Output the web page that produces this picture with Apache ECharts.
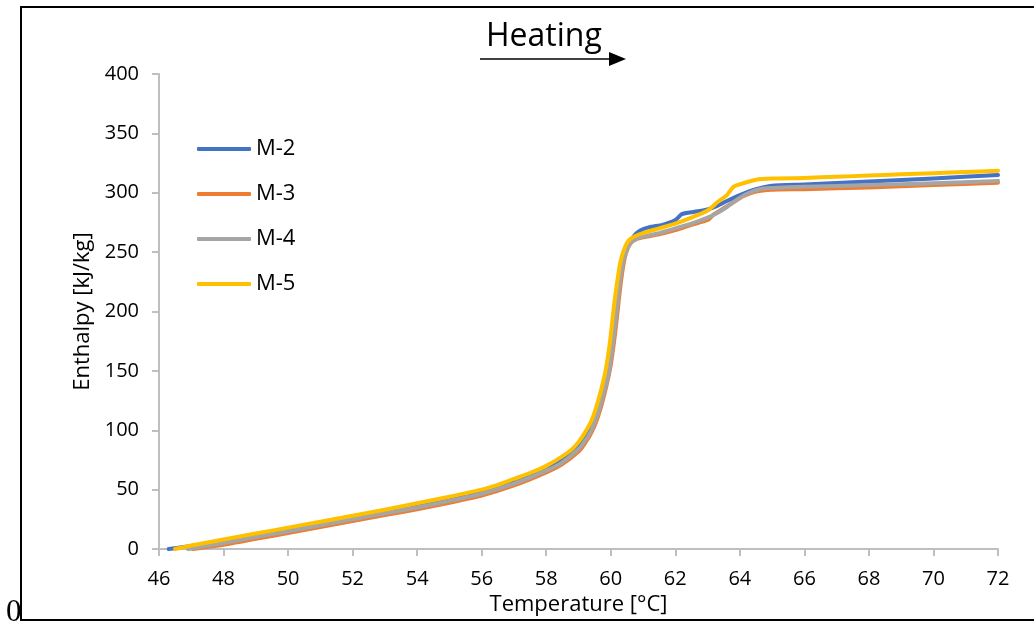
<!DOCTYPE html>
<html>
<head>
<meta charset="utf-8">
<script src="https://cdn.jsdelivr.net/npm/echarts@6/dist/echarts.min.js"></script>
<style>html,body{margin:0;padding:0;background:#fff}#c{width:1034px;height:622px}</style>
</head>
<body>
<div id="c"></div>
<script>
var seriesNames = ['M-2', 'M-3', 'M-4', 'M-5'];
var xTicks = {min: 46, max: 72, interval: 2};
var yTicks = {min: 0, max: 400, interval: 50};

var m2 = [[46.3,0],[47,2.5],[48,7],[49,12],[50,17],[51,22],[52,27],[53,32],[54,37.5],[55,43],[56,49],[57,57.5],[58,68.5],[58.5,76],[59,87],[59.2,94],[59.4,103],[59.6,118],[59.8,138],[60,165],[60.15,195],[60.25,220],[60.35,240],[60.5,254],[60.7,263],[60.9,268],[61.2,271],[61.6,273],[62,277],[62.2,282],[62.6,284],[63,286],[63.3,289],[63.6,293],[64,298],[64.5,303],[65,306],[66,307],[68,309.5],[70,312],[72,315]];
var m3 = [[47.05,0],[48,3.5],[49,8.5],[50,13.5],[51,18.5],[52,23.5],[53,28.5],[54,33.5],[55,39],[56,45],[57,53.5],[58,64.5],[58.5,71.5],[59,82],[59.2,89],[59.4,98],[59.6,111],[59.8,130],[60,155],[60.15,185],[60.25,210],[60.35,232],[60.45,247],[60.6,257],[60.8,261],[61,262.5],[61.5,265],[62,268.5],[62.5,273],[63,277],[63.2,282],[63.5,287],[63.8,292],[64.1,297],[64.5,301],[65,302.5],[66,303],[68,304.5],[70,306.5],[72,308.5]];
var m4 = [[46.9,0],[47,0.5],[48,5],[49,10],[50,15],[51,20],[52,25],[53,30],[54,35],[55,40.5],[56,46.5],[57,55],[58,66],[58.5,73],[59,84],[59.2,91],[59.4,100],[59.6,114],[59.8,133],[59.95,150],[60.1,180],[60.2,205],[60.3,228],[60.4,244],[60.55,255],[60.7,260],[61,263],[61.5,266],[62,270],[62.5,274],[63,279],[63.3,283],[63.6,288],[63.9,294],[64.2,299],[64.6,303],[65,304],[66,305],[68,306.5],[70,308],[72,310]];
var m5 = [[46.5,0],[47,3],[48,8],[49,13],[50,18],[51,23],[52,28],[53,33],[54,38.5],[55,44],[56,50],[56.5,54],[57,59],[57.5,64],[58,70],[58.5,78],[58.8,84],[59,90],[59.2,98],[59.4,108],[59.6,124],[59.8,145],[59.9,160],[60,180],[60.1,205],[60.2,225],[60.3,242],[60.45,255],[60.6,261],[60.8,264],[61,266],[61.5,270],[62,274],[62.5,279],[63,285],[63.3,292],[63.6,298],[63.8,305],[64.1,308],[64.5,311],[65,312],[66,312.5],[67,313.5],[68,314.5],[69,315.5],[70,316.5],[71,317.5],[72,318.5]];

var colors = ['#4472C4', '#ED7D31', '#A5A5A5', '#FFC000'];
var allData = [m2, m3, m4, m5];
var FONT = '"Open Sans", sans-serif';

var chart = echarts.init(document.getElementById('c'), null, {renderer: 'canvas'});
chart.setOption({
  animation: false,
  backgroundColor: '#fff',
  grid: {left: 159, right: 36, top: 74, bottom: 73, containLabel: false},
  legend: {
    orient: 'vertical', left: 197, top: 138, padding: 0,
    itemWidth: 54, itemHeight: 4, itemGap: 23, icon: 'roundRect', itemTextGap: 5,
    textStyle: {fontFamily: FONT, fontSize: 22, color: '#000'},
    data: seriesNames
  },
  xAxis: {
    type: 'value', min: xTicks.min, max: xTicks.max, interval: xTicks.interval,
    name: 'Temperature [°C]', nameLocation: 'middle', nameGap: 40,
    nameTextStyle: {fontFamily: FONT, fontSize: 22, color: '#000'},
    axisLine: {show: true, lineStyle: {color: '#BFBFBF', width: 2}},
    axisTick: {show: true, inside: false, length: 7, lineStyle: {color: '#BFBFBF', width: 2}},
    axisLabel: {fontFamily: FONT, fontSize: 20, color: '#000', margin: 20},
    splitLine: {show: false}
  },
  yAxis: {
    type: 'value', min: yTicks.min, max: yTicks.max, interval: yTicks.interval,
    name: 'Enthalpy [kJ/kg]', nameLocation: 'middle', nameGap: 64,
    nameTextStyle: {fontFamily: FONT, fontSize: 22, color: '#000'},
    axisLine: {show: true, lineStyle: {color: '#BFBFBF', width: 2}},
    axisTick: {show: true, inside: false, length: 7, lineStyle: {color: '#BFBFBF', width: 2}},
    axisLabel: {fontFamily: FONT, fontSize: 20, color: '#000', margin: 20},
    splitLine: {show: false}
  },
  series: seriesNames.map(function (n, i) {
    return {
      name: n, type: 'line', data: allData[i], showSymbol: false, symbol: 'none',
      smooth: 0.2, color: colors[i],
      lineStyle: {width: 4, color: colors[i], cap: 'round', join: 'round'},
      z: 2 + i
    };
  }),
  graphic: [
    {type: 'rect', shape: {x: 21, y: 7, width: 1100, height: 613}, style: {fill: 'none', stroke: '#000', lineWidth: 2}, silent: true},
    {type: 'text', left: 6, top: 597, style: {text: '0', font: '31px "Liberation Serif", serif', fill: '#000'}},
    {type: 'text', left: 486, top: 21, style: {text: 'Heating', font: '32px ' + FONT, fill: '#000'}},
    {type: 'line', shape: {x1: 480, y1: 59, x2: 612, y2: 59}, style: {stroke: '#000', lineWidth: 1.5}},
    {type: 'polygon', shape: {points: [[609, 52], [626, 59], [609, 66]]}, style: {fill: '#000'}}
  ]
});
</script>
</body>
</html>
